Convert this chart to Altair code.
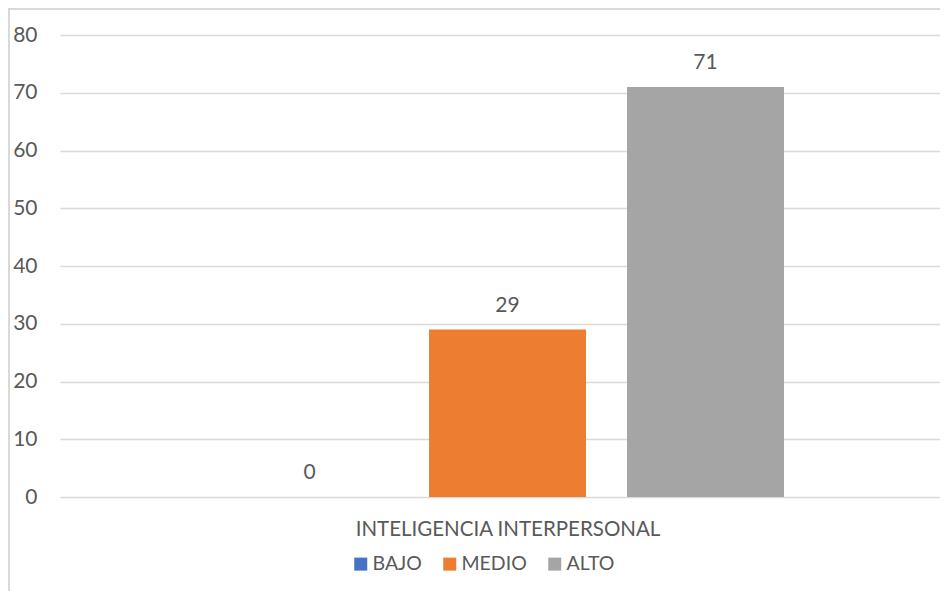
import altair as alt
import pandas as pd

categorias = ["INTELIGENCIA INTERPERSONAL"]
niveles = ["BAJO", "MEDIO", "ALTO"]
valores = [0, 29, 71]
colores = ["#4472C4", "#ED7D31", "#A5A5A5"]
y_ticks = [0, 10, 20, 30, 40, 50, 60, 70, 80]

df = pd.DataFrame({
    "categoria": [categorias[0]] * len(niveles),
    "nivel": niveles,
    "valor": valores,
})

FONT = "Lato"
TXT = "#595959"
GRID = "#D9D9D9"
W, H = 880, 462

x_enc = alt.X(
    "categoria:N",
    scale=alt.Scale(paddingInner=0, paddingOuter=0),
    axis=alt.Axis(title=None, domain=False, ticks=False, labelPadding=22,
                  labelFont=FONT, labelFontSize=20.5, labelColor=TXT, labelAngle=0,
                  labelOffset=8, labelLimit=0),
)
xoff_enc = alt.XOffset(
    "nivel:N", sort=niveles,
    scale=alt.Scale(domain=niveles, paddingInner=0.207, paddingOuter=0.826, align=0.523),
)
y_enc = alt.Y(
    "valor:Q",
    scale=alt.Scale(domain=[0, 80], nice=False),
    axis=alt.Axis(title=None, values=y_ticks, domain=False, ticks=False, labelPadding=23,
                  labelFont=FONT, labelFontSize=21, labelColor=TXT,
                  grid=True, gridColor=GRID, gridWidth=1.5),
)

bars = alt.Chart(df).mark_bar().encode(
    x=x_enc,
    xOffset=xoff_enc,
    y=y_enc,
    color=alt.Color(
        "nivel:N", sort=niveles,
        scale=alt.Scale(domain=niveles, range=colores),
        legend=alt.Legend(
            title=None, orient="none", legendX=291, legendY=519, direction="horizontal",
            padding=0,
            symbolType="square", symbolSize=169, symbolStrokeWidth=0,
            labelFont=FONT, labelFontSize=19.5, labelColor=TXT, labelOffset=2,
            columnPadding=18,
        ),
    ),
)

labels = alt.Chart(df).mark_text(
    font=FONT, fontSize=21, color=TXT, baseline="alphabetic", dy=-18
).encode(
    x=x_enc,
    xOffset=xoff_enc,
    y=y_enc,
    text=alt.Text("valor:Q"),
)

border_left = alt.Chart(df).mark_rule(color=GRID, strokeWidth=2).encode(
    x=alt.value(-51), y=alt.value(-27), y2=alt.value(556)
)
border_top = alt.Chart(df).mark_rule(color=GRID, strokeWidth=2).encode(
    x=alt.value(-51), x2=alt.value(W), y=alt.value(-26)
)

chart = alt.layer(border_left, border_top, bars, labels).properties(
    width=W, height=H,
    autosize=alt.AutoSizeParams(type="none"),
    padding={"left": 52, "top": 27, "right": 0, "bottom": 94},
    background="white",
).configure_view(stroke=None)

chart.save("out.html", embed_options={"renderer": "svg", "actions": False})
